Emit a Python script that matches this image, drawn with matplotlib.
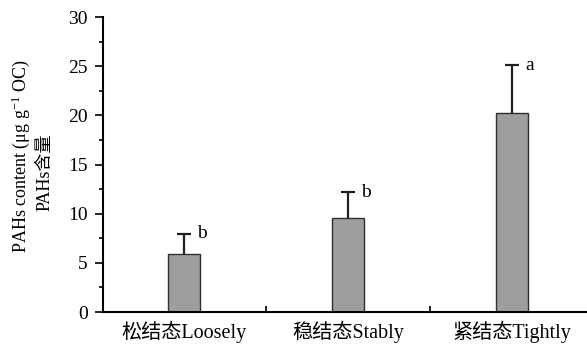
import matplotlib.pyplot as plt
from matplotlib.ticker import MultipleLocator, FixedLocator

plt.rcParams['font.family'] = ['Liberation Serif', 'Noto Sans CJK SC']
plt.rcParams['mathtext.fontset'] = 'custom'
plt.rcParams['mathtext.rm'] = 'Liberation Serif'
plt.rcParams['mathtext.it'] = 'Liberation Serif:italic'

categories = ['松结态Loosely', '稳结态Stably', '紧结态Tightly']
means = [5.9, 9.55, 20.2]
errors = [2.05, 2.65, 4.9]
letters = ['b', 'b', 'a']

fig = plt.figure(figsize=(5.87, 3.52), dpi=100)
ax = fig.add_axes([0.1755, 0.1136, 0.8245, 0.838])

x = list(range(len(categories)))
ax.bar(x, means, width=0.2, color='#9e9e9e', edgecolor='#303030', linewidth=1.0)
eb = ax.errorbar(x, means, yerr=[[0] * len(errors), errors], fmt='none',
                 ecolor='#202020', elinewidth=1.6, capsize=5, capthick=1.6)
eb[1][0].set_visible(False)  # no lower cap

for xi, m, e, t in zip(x, means, errors, letters):
    ax.text(xi + 0.08, m + e, t, fontsize=14, va='center', ha='left')

ax.set_xlim(-0.494, 2.457)
ax.set_ylim(0, 30)
ax.set_xticks(x)
ax.set_xticklabels(categories, fontsize=14.5)
ax.xaxis.set_minor_locator(FixedLocator([0.5, 1.5]))
ax.tick_params(axis='x', which='major', length=0, pad=6)
ax.tick_params(axis='x', which='minor', length=4, width=1.2, direction='in')

ax.yaxis.set_major_locator(MultipleLocator(5))
ax.yaxis.set_minor_locator(MultipleLocator(2.5))
ax.tick_params(axis='y', which='major', length=6, width=1.2, labelsize=14, pad=5)
ax.tick_params(axis='y', which='minor', length=3, width=1.2)

for s in ['top', 'right']:
    ax.spines[s].set_visible(False)
for s in ['left', 'bottom']:
    ax.spines[s].set_linewidth(1.5)

ax.text(-0.17, 0.53, 'PAHs content (μg g$^{-1}$ OC)', transform=ax.transAxes,
        rotation=90, ha='center', va='center', fontsize=13)
ax.text(-0.12, 0.475, 'PAHs含量', transform=ax.transAxes,
        rotation=90, ha='center', va='center', fontsize=13)

fig.savefig('out.png', dpi=100)
